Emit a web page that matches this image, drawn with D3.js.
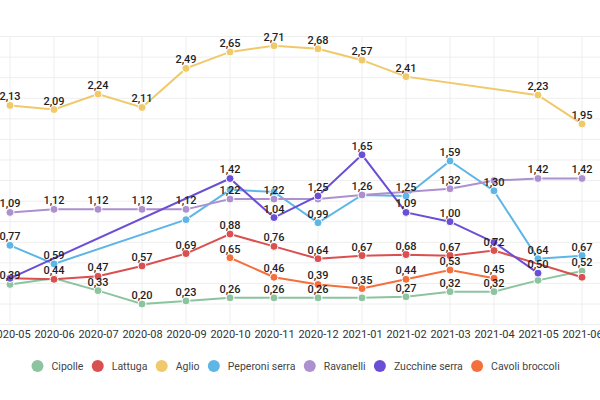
<!DOCTYPE html>
<html>
<head>
<meta charset="utf-8">
<script src="https://cdn.jsdelivr.net/npm/d3@7"></script>
<style>
  html, body { margin: 0; padding: 0; background: #fff; }
  svg { display: block; font-family: Roboto, "Noto Sans", sans-serif; }
</style>
</head>
<body>
<svg id="chart" width="600" height="400"></svg>
<script>
const months = ["2020-05","2020-06","2020-07","2020-08","2020-09","2020-10","2020-11","2020-12","2021-01","2021-02","2021-03","2021-04","2021-05","2021-06"];
const seriesNames = ["Cipolle","Lattuga","Aglio","Peperoni serra","Ravanelli","Zucchine serra","Cavoli broccoli"];
const seriesColors = ["#8cc4a0","#da4f4f","#efc96a","#5db6e6","#ac90cf","#6a4fd6","#f46f3c"];

const cipolle   = [0.39, 0.45, 0.33, 0.20, 0.23, 0.26, 0.26, 0.26, 0.26, 0.27, 0.32, 0.32, 0.43, 0.52];
const lattuga   = [0.45, 0.44, 0.47, 0.57, 0.69, 0.88, 0.76, 0.64, 0.67, 0.68, 0.67, 0.72, null, 0.46];
const aglio     = [2.13, 2.09, 2.24, 2.11, 2.49, 2.65, 2.71, 2.68, 2.57, 2.41, null, null, 2.23, 1.95];
const peperoni  = [0.77, 0.59, null, null, 1.02, 1.31, 1.29, 0.99, 1.26, 1.25, 1.59, 1.30, 0.64, 0.67];
const ravanelli = [1.09, 1.12, 1.12, 1.12, 1.12, 1.22, 1.22, 1.22, 1.26, null, 1.32, 1.40, 1.42, 1.42];
const zucchine  = [0.45, null, null, null, null, 1.42, 1.04, 1.25, 1.65, 1.09, 1.00, 0.80, 0.50, null];
const cavoli    = [null, null, null, null, null, 0.65, 0.46, 0.39, 0.35, 0.44, 0.53, 0.45, null, null];
const seriesValues = [cipolle, lattuga, aglio, peperoni, ravanelli, zucchine, cavoli];

// value labels hidden in the reference because they overlap others: [series index, month index]
const hiddenLabels = [[1,0],[5,0],[0,1],[3,4],[3,5],[3,6],[4,7],[0,8],[3,8],[4,11],[5,11],[0,12],[1,13]];

const yTicks = [0,0.2,0.4,0.6,0.8,1.0,1.2,1.4,1.6,1.8,2.0,2.2,2.4,2.6,2.8];

const svg = d3.select("#chart");
const W = 600;
const x = d3.scalePoint().domain(months).range([10, 582]);
const y = d3.scaleLinear().domain([0, 2.8]).range([324.6, 36.5]);

// grid
const grid = svg.append("g");
grid.selectAll("line.h").data(yTicks).join("line")
  .attr("x1", 0).attr("x2", W)
  .attr("y1", d => y(d)).attr("y2", d => y(d))
  .attr("stroke", "#eeeeee").attr("stroke-width", 1);
grid.selectAll("line.v").data(months).join("line")
  .attr("x1", d => x(d)).attr("x2", d => x(d))
  .attr("y1", y(2.8)).attr("y2", y(0))
  .attr("stroke", "#eeeeee").attr("stroke-width", 1);

// x axis labels
const xAxis = d3.axisBottom(x).tickSize(0).tickPadding(0);
const xg = svg.append("g").attr("transform", `translate(0,${y(0) + 6})`).call(xAxis);
xg.select(".domain").remove();
xg.selectAll("text").attr("font-size", 11).attr("fill", "#333").attr("font-family", "Roboto").attr("dy", "0.71em");

// series
const line = d3.line().x(d => x(d.m)).y(d => y(d.v));
const isHidden = (s, i) => hiddenLabels.some(h => h[0] === s && h[1] === i);
const labelData = [];
seriesValues.forEach((vals, s) => {
  const pts = vals.map((v, i) => ({ m: months[i], v, i })).filter(d => d.v !== null);
  const g = svg.append("g");
  g.append("path").datum(pts).attr("d", line)
    .attr("fill", "none").attr("stroke", seriesColors[s]).attr("stroke-width", 2);
  g.selectAll("circle").data(pts).join("circle")
    .attr("cx", d => x(d.m)).attr("cy", d => y(d.v)).attr("r", 4)
    .attr("fill", seriesColors[s]).attr("stroke", "#fff").attr("stroke-width", 1);
  pts.forEach(d => { if (!isHidden(s, d.i)) labelData.push(d); });
});

const fmt = v => v.toFixed(2).replace(".", ",");
svg.append("g").selectAll("text").data(labelData).join("text")
  .attr("x", d => x(d.m)).attr("y", d => y(d.v) - 5)
  .attr("text-anchor", "middle").attr("font-size", 11).attr("font-weight", 500)
  .attr("fill", "#1f1f1f")
  .text(d => fmt(d.v));

// legend
const leg = svg.append("g");
let lx = 0;
seriesNames.forEach((name, s) => {
  const it = leg.append("g");
  it.append("circle").attr("cx", lx + 6).attr("cy", 0).attr("r", 6).attr("fill", seriesColors[s]);
  const t = it.append("text").attr("x", lx + 20).attr("y", 0).attr("dy", "0.35em")
    .attr("font-size", 10.5).attr("fill", "#444").text(name);
  lx = lx + 20 + t.node().getComputedTextLength() + 8.3;
});
const totalW = lx - 8.3;
leg.attr("transform", `translate(${295.6 - totalW / 2},366)`);
</script>
</body>
</html>
